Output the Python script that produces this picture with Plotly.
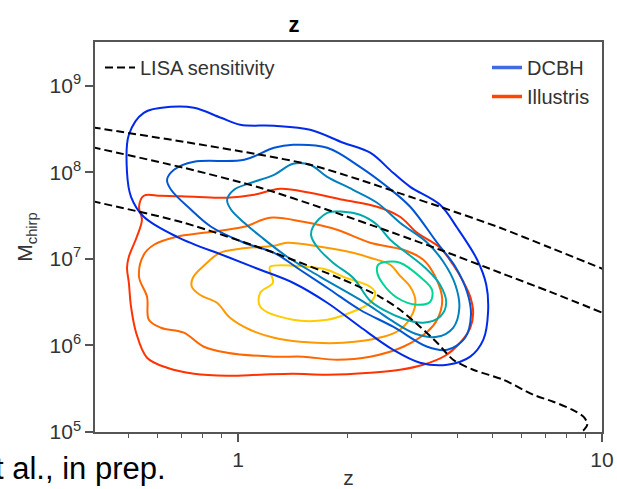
import plotly.graph_objects as go

# ---------------- data (log10 z, log10 M_chirp) ----------------
# DCBH density contours, outermost -> innermost
DCBH_1_LOGZ = [-0.259,-0.184,-0.121,-0.047,0.006,0.099,0.198,0.289,0.363,0.426,0.473,0.555,0.602,0.657,0.682,0.687,0.674,0.638,0.575,0.500,0.426,0.335,0.245,0.151,0.061,-0.030,-0.168,-0.259,-0.294,-0.305,-0.300]
DCBH_1_LOGM = [8.687,8.756,8.745,8.630,8.549,8.537,8.491,8.341,8.226,7.994,7.832,7.625,7.359,6.990,6.701,6.389,6.066,5.870,5.777,5.800,5.950,6.216,6.493,6.724,6.874,7.024,7.255,7.486,7.717,7.994,8.433]
DCBH_2_LOGZ = [-0.195,-0.176,-0.121,0.017,0.099,0.151,0.245,0.335,0.410,0.473,0.547,0.597,0.630,0.640,0.624,0.575,0.520,0.426,0.335,0.253,0.170,0.099,0.017,-0.074,-0.129,-0.184]
DCBH_2_LOGM = [7.913,8.029,8.121,8.144,8.283,8.317,8.283,8.063,7.832,7.602,7.186,6.909,6.609,6.354,6.089,5.950,5.985,6.216,6.412,6.643,6.874,7.070,7.186,7.371,7.567,7.798]
DCBH_3_LOGZ = [-0.030,-0.011,0.036,0.099,0.151,0.198,0.245,0.316,0.382,0.445,0.520,0.564,0.597,0.608,0.591,0.547,0.487,0.418,0.382,0.335,0.226,0.135,0.063,0.017,-0.019]
DCBH_3_LOGM = [7.682,7.798,7.879,7.971,8.098,8.087,7.948,7.798,7.648,7.417,7.186,6.966,6.701,6.435,6.204,6.100,6.135,6.297,6.401,6.528,6.793,7.024,7.255,7.417,7.567]
DCBH_4_LOGZ = [0.206,0.245,0.289,0.335,0.382,0.418,0.459,0.514,0.555,0.572,0.555,0.509,0.454,0.404,0.363,0.316,0.261,0.217,0.201]
DCBH_4_LOGM = [7.371,7.532,7.544,7.509,7.394,7.220,7.082,6.897,6.701,6.493,6.331,6.262,6.308,6.401,6.516,6.782,6.955,7.140,7.267]
DCBH_5_LOGZ = [0.385,0.410,0.445,0.500,0.533,0.528,0.492,0.437,0.396,0.382]
DCBH_5_LOGM = [6.932,6.966,6.955,6.793,6.643,6.505,6.470,6.551,6.724,6.851]

# Illustris density contours, outermost -> innermost
ILL_1_LOGZ = [-0.259,-0.212,-0.121,-0.030,0.044,0.116,0.198,0.289,0.382,0.445,0.492,0.555,0.591,0.619,0.638,0.646,0.638,0.610,0.569,0.509,0.445,0.363,0.245,0.151,0.061,-0.030,-0.121,-0.195,-0.250,-0.280,-0.294,-0.300,-0.305,-0.300,-0.278,-0.264,-0.272]
ILL_1_LOGM = [7.729,7.729,7.717,7.706,7.740,7.809,7.763,7.682,7.602,7.486,7.301,7.128,6.932,6.736,6.562,6.378,6.204,6.031,5.881,5.777,5.719,5.685,5.662,5.673,5.662,5.650,5.673,5.742,5.858,6.147,6.447,6.724,6.897,7.024,7.255,7.451,7.602]
ILL_2_LOGZ = [-0.168,-0.094,0.017,0.088,0.179,0.272,0.363,0.454,0.509,0.542,0.561,0.547,0.520,0.454,0.363,0.272,0.179,0.099,-0.030,-0.094,-0.149,-0.212,-0.245,-0.250,-0.272,-0.259,-0.231]
ILL_2_LOGM = [7.255,7.301,7.371,7.475,7.428,7.336,7.186,7.105,6.990,6.793,6.528,6.297,6.158,5.985,5.870,5.835,5.870,5.870,5.916,5.985,6.147,6.204,6.297,6.562,6.793,7.047,7.163]
ILL_3_LOGZ = [0.099,0.006,-0.050,-0.091,-0.124,-0.127,-0.105,-0.058,-0.022,0.033,0.099,0.170,0.289,0.399,0.445,0.481,0.487,0.473,0.445,0.418,0.363,0.316,0.226,0.135]
ILL_3_LOGM = [7.151,7.117,7.070,6.932,6.782,6.678,6.585,6.493,6.320,6.181,6.089,6.043,6.031,6.100,6.181,6.378,6.528,6.678,6.805,6.932,7.013,7.070,7.140,7.186]
ILL_4_LOGZ = [0.088,0.190,0.245,0.289,0.363,0.377,0.363,0.308,0.245,0.151,0.061,0.061,0.096,0.088]
ILL_4_LOGM = [6.909,6.909,6.874,6.793,6.678,6.609,6.493,6.378,6.297,6.297,6.447,6.609,6.724,6.851]

# LISA sensitivity curves
LISA_A_LOGZ = [-0.40,-0.149,0.061,0.198,0.335,0.473,0.555,0.720,0.858,1.001]
LISA_A_LOGM = [8.52,8.352,8.202,8.087,7.913,7.717,7.602,7.359,7.128,6.886]
LISA_B_LOGZ = [-0.40,-0.149,0.061,0.245,0.426,0.555,0.720,0.858,1.001]
LISA_B_LOGM = [8.289,8.052,7.821,7.567,7.301,7.105,6.840,6.619,6.378]
LISA_C_LOGZ = [-0.40,-0.149,0.099,0.289,0.390,0.445,0.500,0.547,0.591,0.646,0.729,0.811,0.866,0.918,0.949,0.960,0.951,0.932,0.899]
LISA_C_LOGM = [7.665,7.417,7.070,6.759,6.562,6.412,6.216,6.031,5.835,5.719,5.604,5.431,5.350,5.258,5.177,5.096,5.027,4.980,4.911]

DCBH_COLORS = ["#002aea", "#0055d4", "#0080bf", "#00aaaa", "#00d495"]
ILL_COLORS = ["#ff3300", "#ff6600", "#ff9900", "#ffcc00"]

X_TICKS = [1, 10]
X_TICK_TEXT = ["1", "10"]
X_MINOR = [0.5, 0.6, 0.7, 0.8, 0.9, 2, 3, 4, 5, 6, 7, 8, 9]
Y_TICKS = [1e5, 1e6, 1e7, 1e8, 1e9]
Y_TICK_TEXT = ["10<sup>5</sup>", "10<sup>6</sup>", "10<sup>7</sup>", "10<sup>8</sup>", "10<sup>9</sup>"]

FONT = "Liberation Sans, Arial, sans-serif"

def pow10(v):
    return [10 ** a for a in v]

def closed(v):
    return list(v) + [v[0]]

fig = go.Figure()

contours = [
    (ILL_1_LOGZ, ILL_1_LOGM, ILL_COLORS[0]),
    (ILL_2_LOGZ, ILL_2_LOGM, ILL_COLORS[1]),
    (ILL_3_LOGZ, ILL_3_LOGM, ILL_COLORS[2]),
    (ILL_4_LOGZ, ILL_4_LOGM, ILL_COLORS[3]),
    (DCBH_1_LOGZ, DCBH_1_LOGM, DCBH_COLORS[0]),
    (DCBH_2_LOGZ, DCBH_2_LOGM, DCBH_COLORS[1]),
    (DCBH_3_LOGZ, DCBH_3_LOGM, DCBH_COLORS[2]),
    (DCBH_4_LOGZ, DCBH_4_LOGM, DCBH_COLORS[3]),
    (DCBH_5_LOGZ, DCBH_5_LOGM, DCBH_COLORS[4]),
]
for lz, lm, col in contours:
    fig.add_trace(go.Scatter(
        x=pow10(closed(lz)), y=pow10(closed(lm)), mode="lines",
        line=dict(color=col, width=2, shape="spline", smoothing=1.0),
        showlegend=False, hoverinfo="skip"))

for i, (lz, lm) in enumerate([(LISA_A_LOGZ, LISA_A_LOGM), (LISA_B_LOGZ, LISA_B_LOGM),
                              (LISA_C_LOGZ, LISA_C_LOGM)]):
    fig.add_trace(go.Scatter(
        x=pow10(lz), y=pow10(lm), mode="lines",
        line=dict(color="black", width=2, dash="8px,4px", shape="spline", smoothing=0.8),
        name="LISA sensitivity", showlegend=(i == 0), legend="legend", hoverinfo="skip"))

# legend-only entries
fig.add_trace(go.Scatter(x=[None], y=[None], mode="lines", name="DCBH",
                         line=dict(color="#4169e1", width=3.5), legend="legend2"))
fig.add_trace(go.Scatter(x=[None], y=[None], mode="lines", name="Illustris",
                         line=dict(color="#ff4500", width=3.5), legend="legend2"))

axis_common = dict(
    showline=True, mirror=True, linecolor="#555555", linewidth=1.5,
    showgrid=False, zeroline=False, ticks="outside", ticklen=8, tickwidth=1.5,
    tickcolor="#555555", tickfont=dict(family=FONT, size=21, color="#333333"),
)

fig.update_layout(
    width=617, height=489,
    margin=dict(l=95, r=15, t=42, b=57),
    paper_bgcolor="white", plot_bgcolor="white",
    font=dict(family=FONT, color="#333333"),
    title=dict(text="<b>z</b>", x=294 / 617, xref="container", xanchor="center",
               y=1 - 24 / 489, yref="container", yanchor="middle",
               font=dict(family=FONT, size=22, color="black")),
    xaxis=dict(type="log", range=[-0.393, 1.0], tickmode="array",
               tickvals=X_TICKS, ticktext=X_TICK_TEXT,
               minor=dict(tickmode="array", tickvals=X_MINOR, ticks="outside",
                          ticklen=4, tickwidth=1.2, tickcolor="#555555", showgrid=False),
               title=dict(text="z", standoff=9, font=dict(family=FONT, size=21, color="#333333")),
               automargin=False, **axis_common),
    yaxis=dict(type="log", range=[5, 9.505], tickmode="array",
               tickvals=Y_TICKS, ticktext=Y_TICK_TEXT,
               title=dict(text="M<sub>chirp</sub>", standoff=11,
                          font=dict(family=FONT, size=21, color="#333333")),
               automargin=False, **axis_common),
    legend=dict(x=5 / 507, y=(432 - 48) / 390, xanchor="left", yanchor="top",
                bgcolor="rgba(0,0,0,0)", font=dict(family=FONT, size=20, color="#333333"),
                itemwidth=30),
    legend2=dict(x=(487 - 95) / 507, y=(432 - 48) / 390, xanchor="left", yanchor="top",
                 bgcolor="rgba(0,0,0,0)", font=dict(family=FONT, size=20, color="#333333"),
                 itemwidth=30, tracegroupgap=0),
    annotations=[dict(text="t al., in prep.", xref="paper", yref="paper",
                      x=(168 - 95) / 507, y=(432 - 468) / 390, xanchor="right",
                      yanchor="middle", showarrow=False,
                      font=dict(family=FONT, size=31, color="black"))],
)

fig.write_html("out.html")
